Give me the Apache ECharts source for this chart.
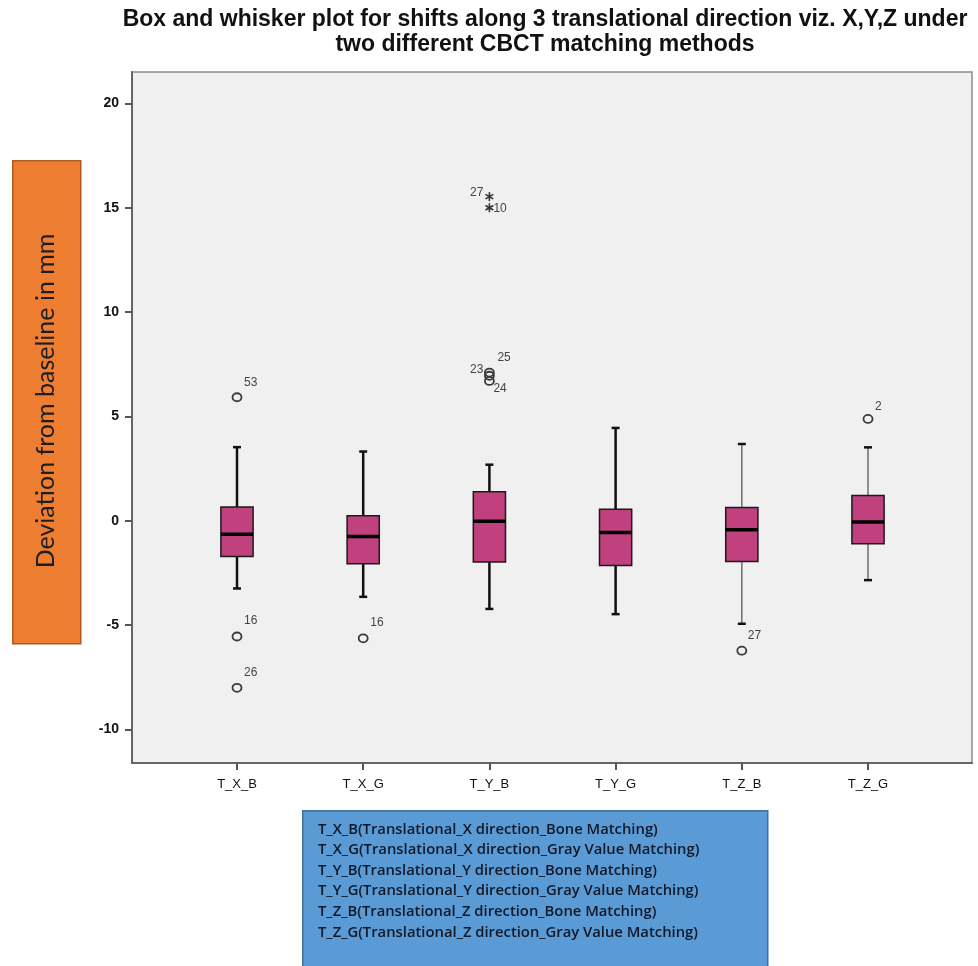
<!DOCTYPE html>
<html>
<head>
<meta charset="utf-8">
<script src="https://cdn.jsdelivr.net/npm/echarts@6/dist/echarts.min.js"></script>
<style>
html,body{margin:0;padding:0;background:#fff;}
#chart{width:978px;height:966px;}
</style>
</head>
<body>
<div id="chart"></div>
<script>
// ---------------- DATA ----------------
const categories = ['T_X_B', 'T_X_G', 'T_Y_B', 'T_Y_G', 'T_Z_B', 'T_Z_G'];
const whiskerLow  = [-3.24, -3.64, -4.22, -4.47, -4.93, -2.84];
const quartile1   = [-1.71, -2.05, -1.97, -2.14, -1.95, -1.10];
const medians     = [-0.64, -0.75, -0.02, -0.56, -0.43, -0.05];
const quartile3   = [ 0.66,  0.24,  1.39,  0.56,  0.64,  1.21];
const whiskerHigh = [ 3.53,  3.32,  2.69,  4.45,  3.68,  3.52];

// outliers: category index, value, case number, kind ('o' = outlier, '*' = extreme)
const outlierCategory = [0, 0, 0, 1, 2, 2, 2, 2, 2, 4, 5];
const outlierValue    = [5.92, -5.54, -8.0, -5.63, 15.53, 15.0, 6.95, 7.1, 6.7, -6.22, 4.88];
const outlierCase     = ['53', '16', '26', '16', '27', '10', '23', '25', '24', '27', '2'];
const outlierKind     = ['o', 'o', 'o', 'o', '*', '*', 'o', 'o', 'o', 'o', 'o'];

const yTicks = [-10, -5, 0, 5, 10, 15, 20];
const xTicks = [0, 1, 2, 3, 4, 5];

const titleText = 'Box and whisker plot for shifts along 3 translational direction viz. X,Y,Z under\ntwo different CBCT matching methods';
const yLabelText = 'Deviation from baseline in mm';
const legendLines = [
  'T_X_B(Translational_X direction_Bone Matching)',
  'T_X_G(Translational_X direction_Gray Value Matching)',
  'T_Y_B(Translational_Y direction_Bone Matching)',
  'T_Y_G(Translational_Y direction_Gray Value Matching)',
  'T_Z_B(Translational_Z direction_Bone Matching)',
  'T_Z_G(Translational_Z direction_Gray Value Matching)'
];

// ---------------- STYLE ----------------
const BOX_W = 0.255;           // in category units
const thinWhisker = [false, false, false, false, true, true];
// label placement per outlier: [dx, dy, align]
const labelPlace = [
  [7, -15, 'left'], [7, -16, 'left'], [7, -15, 'left'], [7, -16, 'left'],
  [-6, -4, 'right'], [4, 1, 'left'], [-6, -6, 'right'], [8, -15, 'left'],
  [4, 8, 'left'], [6, -15, 'left'], [7, -12, 'left']
];

const boxData = categories.map((c, i) => [i, whiskerLow[i], quartile1[i], medians[i], quartile3[i], whiskerHigh[i]]);
const outlierData = outlierValue.map((v, k) => [outlierCategory[k], v, k]);

const chart = echarts.init(document.getElementById('chart'), null, {renderer: 'canvas'});

const option = {
  animation: false,
  backgroundColor: '#ffffff',
  title: {
    text: titleText,
    left: 540,
    top: 2,
    textAlign: 'center',
    textStyle: {
      fontFamily: 'Liberation Sans, Arial, sans-serif',
      fontWeight: 'bold',
      fontSize: 23,
      lineHeight: 25,
      color: '#111'
    }
  },
  grid: {
    left: 132, top: 72, right: 6, bottom: 203,
    show: true,
    backgroundColor: '#f0f0f0',
    borderColor: '#8c8c8c',
    borderWidth: 1.5
  },
  xAxis: {
    type: 'value',
    min: -0.832,
    max: 5.824,
    splitLine: {show: false},
    axisLine: {show: true, onZero: false, lineStyle: {color: '#666', width: 2}},
    axisTick: {show: true, customValues: xTicks, length: 7, lineStyle: {color: '#555', width: 2}},
    axisLabel: {
      customValues: xTicks,
      formatter: v => categories[Math.round(v)],
      fontFamily: 'Liberation Sans, Arial, sans-serif',
      fontSize: 13, color: '#111', margin: 15
    }
  },
  yAxis: {
    type: 'value',
    min: -11.6,
    max: 21.5,
    splitLine: {show: false},
    axisLine: {show: true, onZero: false, lineStyle: {color: '#666', width: 2}},
    axisTick: {show: true, customValues: yTicks, length: 7, lineStyle: {color: '#555', width: 2}},
    axisLabel: {
      customValues: yTicks,
      fontFamily: 'Liberation Sans, Arial, sans-serif',
      fontSize: 14, fontWeight: 'bold', color: '#111', margin: 13
    }
  },
  series: [
    {
      type: 'custom',
      name: 'boxes',
      data: boxData,
      encode: {x: 0, y: [1, 2, 3, 4, 5]},
      renderItem: function (params, api) {
        const i = api.value(0);
        const lo = api.coord([i, api.value(1)]);
        const q1 = api.coord([i, api.value(2)]);
        const md = api.coord([i, api.value(3)]);
        const q3 = api.coord([i, api.value(4)]);
        const hi = api.coord([i, api.value(5)]);
        const halfW = api.size([BOX_W, 0])[0] / 2;
        const cx = lo[0];
        const thin = thinWhisker[i];
        const wStyle = {stroke: thin ? '#6e6e6e' : '#111', lineWidth: thin ? 1.5 : 2.5};
        const cap = 4;
        return {
          type: 'group',
          children: [
            {type: 'line', shape: {x1: cx, y1: hi[1], x2: cx, y2: q3[1]}, style: wStyle},
            {type: 'line', shape: {x1: cx, y1: q1[1], x2: cx, y2: lo[1]}, style: wStyle},
            {type: 'line', shape: {x1: cx - cap, y1: hi[1], x2: cx + cap, y2: hi[1]}, style: {stroke: '#111', lineWidth: 2.5}},
            {type: 'line', shape: {x1: cx - cap, y1: lo[1], x2: cx + cap, y2: lo[1]}, style: {stroke: '#111', lineWidth: 2.5}},
            {type: 'rect', shape: {x: cx - halfW, y: q3[1], width: halfW * 2, height: q1[1] - q3[1]},
              style: {fill: '#c1407e', stroke: '#1a1a1a', lineWidth: 1.5}},
            {type: 'line', shape: {x1: cx - halfW, y1: md[1], x2: cx + halfW, y2: md[1]}, style: {stroke: '#000', lineWidth: 3.5}}
          ]
        };
      }
    },
    {
      type: 'custom',
      name: 'outliers',
      data: outlierData,
      encode: {x: 0, y: 1},
      renderItem: function (params, api) {
        const k = api.value(2);
        const p = api.coord([api.value(0), api.value(1)]);
        const pl = labelPlace[k];
        const children = [];
        if (outlierKind[k] === '*') {
          const r = 4.5;
          for (let a = 0; a < 3; a++) {
            const ang = Math.PI / 2 + a * Math.PI / 3;
            children.push({type: 'line', shape: {
              x1: p[0] - r * Math.cos(ang), y1: p[1] - r * Math.sin(ang),
              x2: p[0] + r * Math.cos(ang), y2: p[1] + r * Math.sin(ang)},
              style: {stroke: '#333', lineWidth: 1.6}});
          }
        } else {
          children.push({type: 'ellipse', shape: {cx: p[0], cy: p[1], rx: 4.5, ry: 4},
            style: {fill: 'none', stroke: '#3a3a3a', lineWidth: 1.8}});
        }
        children.push({type: 'text', x: p[0] + pl[0], y: p[1] + pl[1],
          style: {text: outlierCase[k], fill: '#444', align: pl[2], verticalAlign: 'middle',
            fontFamily: 'Liberation Sans, Arial, sans-serif', fontSize: 12}});
        return {type: 'group', children: children};
      }
    }
  ],
  graphic: [
    {
      type: 'rect',
      left: 12, top: 160,
      shape: {width: 68, height: 483},
      style: {fill: '#ed7d31', stroke: '#ae5a21', lineWidth: 1.5}
    },
    {
      type: 'text',
      x: 46, y: 401,
      rotation: Math.PI / 2,
      style: {text: yLabelText, fill: '#1e1e1e', align: 'center', verticalAlign: 'middle',
        fontFamily: 'Lato, sans-serif', fontSize: 25}
    },
    {
      type: 'rect',
      left: 302, top: 810,
      shape: {width: 465, height: 160},
      style: {fill: '#5b9bd5', stroke: '#41719c', lineWidth: 1.5}
    },
    {
      type: 'text',
      x: 318, y: 819,
      style: {text: legendLines.join('\n'), fill: '#101828', align: 'left', verticalAlign: 'top',
        fontFamily: 'Open Sans, sans-serif', fontWeight: 600, fontSize: 14.8, lineHeight: 20.6}
    }
  ]
};
chart.setOption(option);
</script>
</body>
</html>
